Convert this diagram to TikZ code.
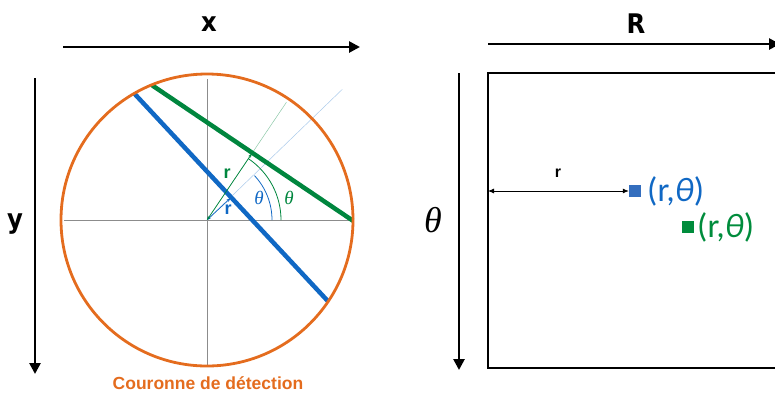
\documentclass[tikz,border=0pt]{standalone}
\usepackage{fontspec}
\setmainfont{Liberation Sans}
\newfontfamily\carl{Carlito}
\newfontfamily\tms{Liberation Serif}
\newfontfamily\djc{DejaVu Sans Condensed}
\usetikzlibrary{arrows.meta}
\definecolor{orng}{RGB}{228,108,30}
\definecolor{blu}{RGB}{16,104,196}
\definecolor{grn}{RGB}{0,134,62}
\definecolor{sqblu}{RGB}{52,110,190}
\definecolor{sqgrn}{RGB}{0,140,60}
\definecolor{axgray}{RGB}{140,140,140}
\tikzset{
  bigaxis/.style={line width=2.6pt,-{Triangle[length=11pt,width=11pt]}},
  axlabel/.style={font=\djc\bfseries\fontsize{27}{27}\selectfont},
  thinaxis/.style={axgray,line width=0.8pt},
  chord/.style={line width=4.5pt},
  ray/.style={line width=0.5pt},
  rarrow/.style={line width=0.7pt,{Stealth[length=4pt,width=3pt]}-{Stealth[length=4pt,width=3pt]}},
  rlab/.style={font=\bfseries\fontsize{18}{18}\selectfont},
  thlab/.style={font=\tms\itshape\fontsize{19}{19}\selectfont},
  coord/.style={font=\carl\fontsize{34}{34}\selectfont,anchor=west,inner sep=0pt},
  sq/.style={minimum size=12pt,inner sep=0pt},
}
\begin{document}
\begin{tikzpicture}[x=1pt,y=-1pt]
\useasboundingbox (0,0) rectangle (775,392);
% ---- left panel: axes
\coordinate (xa) at (63,47); \coordinate (xb) at (360,47);
\draw[bigaxis] (xa) -- (xb);
\node[axlabel] (xlab) at (209,24) {x};
\coordinate (ya) at (35,78); \coordinate (yb) at (35,374);
\draw[bigaxis] (ya) -- (yb);
\node[axlabel] (ylab) at (15,224) {y};
% ---- circle
\begin{scope}[shift={(207,220)},yscale=-1]
  \coordinate (O) at (0,0);
  \coordinate (hl) at (-143,0); \coordinate (hr) at (146,0);
  \coordinate (vt) at (0,141); \coordinate (vb) at (0,-146);
  \draw[thinaxis] (hl) -- (hr);
  \draw[thinaxis] (vt) -- (vb);
  % rays
  \coordinate (rb) at (44:188);
  \coordinate (rg) at (56:142);
  \draw[ray,blu!35] (O) -- (rb);
  \draw[ray,grn!45] (O) -- (rg);
  % chords
  \coordinate (b1) at (119.9:146); \coordinate (b2) at (-33.9:146);
  \coordinate (g1) at (112.3:146); \coordinate (g2) at (-0.3:146);
  \draw[chord,blu] (b1) -- (b2);
  \draw[chord,grn] (g1) -- (g2);
  % circle
  \draw[orng,line width=2.8pt] (O) circle (146);
  % perpendicular feet
  \coordinate (fb) at (43:32);
  \coordinate (fg) at (56:80);
  \draw[rarrow,blu] (O) -- (fb);
  \draw[rarrow,grn] (O) -- (fg);
  % angle arcs
  \draw[blu,line width=0.8pt] (65,0) arc (0:43:65);
  \draw[grn,line width=0.8pt] (74,0) arc (0:56:74);
  \node[rlab,grn] (rgl) at (20,46) {r};
  \node[rlab,blu] (rbl) at (21,10) {r};
  \node[thlab,blu] (tbl) at (52,22) {θ};
  \node[thlab,grn] (tgl) at (82,22) {θ};
\end{scope}
\node[font=\bfseries\fontsize{17.5}{17.5}\selectfont,text=orng] (cdd) at (208,383) {Couronne de détection};
% ---- right panel
\coordinate (Ra) at (488,44); \coordinate (Rb) at (780,44);
\draw[bigaxis] (Ra) -- (Rb);
\node[axlabel] (Rlab) at (636,24) {R};
\coordinate (ta) at (459,73); \coordinate (tb) at (459,370);
\draw[bigaxis] (ta) -- (tb);
\node[font=\tms\itshape\fontsize{36}{36}\selectfont] (tlab) at (433,220) {θ};
\draw[line width=1.6pt] (800,73) -- (488,73) -- (488,368) -- (800,368);
\coordinate (rl) at (488,191);
\node[sq,fill=sqblu] (sqb) at (635,191) {};
\draw[line width=0.8pt,{Latex[length=6pt,width=5pt]}-{Latex[length=6pt,width=5pt]}] (rl) -- (sqb.west);
\node[font=\bfseries\fontsize{16}{16}\selectfont] (rr) at (558,173) {r};
\node[coord,text=blu] (pb) at (647,191) {(r,{\itshape θ})};
\node[sq,fill=sqgrn] (sqg) at (688,227) {};
\node[coord,text=sqgrn] (pg) at (697,227) {(r,{\itshape θ})};
\end{tikzpicture}
\end{document}
